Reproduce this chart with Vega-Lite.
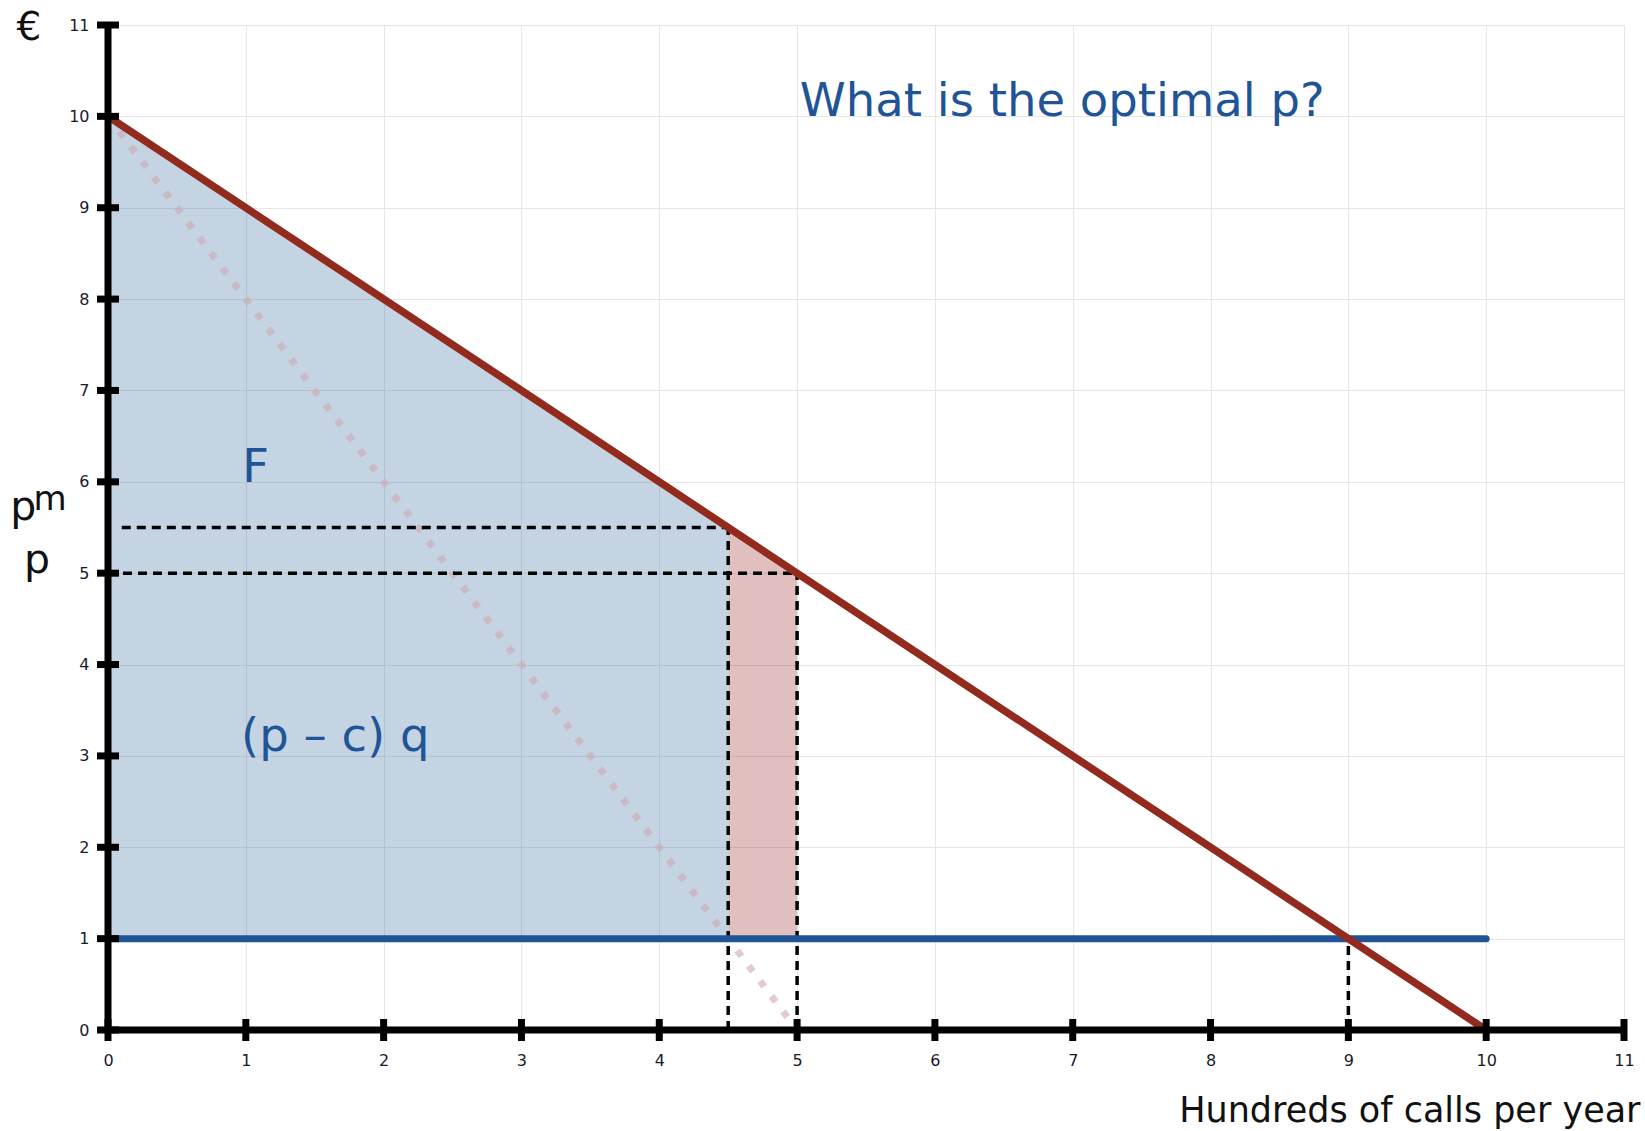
{
  "$schema": "https://vega.github.io/schema/vega-lite/v6.json",
  "width": 1516,
  "height": 1005,
  "autosize": {"type": "none"},
  "padding": {"left": 108, "top": 25, "right": 21, "bottom": 101},
  "config": {
    "view": {"stroke": null},
    "font": "DejaVu Sans",
    "axis": {
      "grid": true,
      "gridColor": "#e6e6e6",
      "gridWidth": 1,
      "ticks": false,
      "domain": false,
      "labelFont": "DejaVu Sans",
      "labelFontSize": 16,
      "labelColor": "#1a1a2a",
      "titleFont": "DejaVu Sans",
      "titleFontWeight": "normal",
      "titleColor": "#111111"
    }
  },
  "datasets": {
    "blueArea": [{"x": 0, "y": 10}, {"x": 4.5, "y": 5.5}],
    "redArea": [{"x": 4.5, "y": 5.5}, {"x": 5, "y": 5}],
    "mr": [{"x": 0, "y": 10}, {"x": 5, "y": 0}],
    "dashed": [
      {"x": 0.1, "y": 5.5, "x2": 4.5, "y2": 5.5},
      {"x": 0, "y": 5, "x2": 5, "y2": 5},
      {"x": 4.5, "y": 0, "x2": 4.5, "y2": 5.5},
      {"x": 5, "y": 0, "x2": 5, "y2": 5},
      {"x": 9, "y": 0, "x2": 9, "y2": 1}
    ],
    "cost": [{"x": 0, "y": 1, "x2": 10, "y2": 1}],
    "demand": [{"x": 0, "y": 10, "x2": 10, "y2": 0}],
    "axes": [
      {"x": 0, "y": 0, "x2": 11, "y2": 0},
      {"x": 0, "y": 0, "x2": 0, "y2": 11}
    ],
    "xticks": [
      {"x": 0, "y": 0}, {"x": 1, "y": 0}, {"x": 2, "y": 0}, {"x": 3, "y": 0},
      {"x": 4, "y": 0}, {"x": 5, "y": 0}, {"x": 6, "y": 0}, {"x": 7, "y": 0},
      {"x": 8, "y": 0}, {"x": 9, "y": 0}, {"x": 10, "y": 0}, {"x": 11, "y": 0}
    ],
    "yticks": [
      {"x": 0, "y": 0}, {"x": 0, "y": 1}, {"x": 0, "y": 2}, {"x": 0, "y": 3},
      {"x": 0, "y": 4}, {"x": 0, "y": 5}, {"x": 0, "y": 6}, {"x": 0, "y": 7},
      {"x": 0, "y": 8}, {"x": 0, "y": 9}, {"x": 0, "y": 10}, {"x": 0, "y": 11}
    ],
    "blueText": [
      {"x": 5.02, "y": 10.0, "label": "What is the optimal p?"},
      {"x": 0.975, "y": 6.0, "label": "F"},
      {"x": 0.965, "y": 3.05, "label": "(p – c) q"}
    ],
    "bigP": [
      {"x": -0.71, "y": 5.58, "label": "p"},
      {"x": -0.61, "y": 5.0, "label": "p"}
    ],
    "supM": [{"x": -0.54, "y": 5.69, "label": "m"}]
  },
  "encoding": {
    "x": {
      "field": "x",
      "type": "quantitative",
      "scale": {"domain": [0, 11], "nice": false, "zero": false},
      "axis": {
        "values": [0, 1, 2, 3, 4, 5, 6, 7, 8, 9, 10, 11],
        "labelPadding": 22,
        "labelFlush": false,
        "title": "Hundreds of calls per year",
        "titleFontSize": 35,
        "titleAnchor": "end",
        "titleAlign": "right",
        "titleBaseline": "alphabetic",
        "titleX": 1532,
        "titleY": 91
      }
    },
    "y": {
      "field": "y",
      "type": "quantitative",
      "scale": {"domain": [0, 11], "nice": false, "zero": false},
      "axis": {
        "values": [0, 1, 2, 3, 4, 5, 6, 7, 8, 9, 10, 11],
        "labelPadding": 19,
        "labelFlush": false,
        "title": "€",
        "titleFontSize": 39,
        "titleAngle": 0,
        "titleAlign": "left",
        "titleBaseline": "alphabetic",
        "titleX": -92,
        "titleY": 14
      }
    }
  },
  "layer": [
    {
      "data": {"name": "blueArea"},
      "mark": {"type": "area", "color": "#2a639a", "opacity": 0.28},
      "encoding": {"y2": {"datum": 1}}
    },
    {
      "data": {"name": "redArea"},
      "mark": {"type": "area", "color": "#9b2a2a", "opacity": 0.3},
      "encoding": {"y2": {"datum": 1}}
    },
    {
      "data": {"name": "mr"},
      "mark": {"type": "line", "color": "#cfa9b2", "opacity": 0.6, "strokeWidth": 7, "strokeDash": [7, 12], "strokeCap": "butt"},
      "encoding": {}
    },
    {
      "data": {"name": "dashed"},
      "mark": {"type": "rule", "color": "#000000", "strokeWidth": 3.5, "strokeDash": [9, 6]},
      "encoding": {"x2": {"field": "x2"}, "y2": {"field": "y2"}}
    },
    {
      "data": {"name": "cost"},
      "mark": {"type": "rule", "color": "#1f5597", "strokeWidth": 7, "strokeCap": "round"},
      "encoding": {"x2": {"field": "x2"}, "y2": {"field": "y2"}}
    },
    {
      "data": {"name": "demand"},
      "mark": {"type": "rule", "color": "#922a1e", "strokeWidth": 7.5, "strokeCap": "round"},
      "encoding": {"x2": {"field": "x2"}, "y2": {"field": "y2"}}
    },
    {
      "data": {"name": "axes"},
      "mark": {"type": "rule", "color": "#000000", "strokeWidth": 7},
      "encoding": {"x2": {"field": "x2"}, "y2": {"field": "y2"}}
    },
    {
      "data": {"name": "xticks"},
      "mark": {"type": "tick", "orient": "vertical", "color": "#000000", "size": 22, "thickness": 7, "opacity": 1}
    },
    {
      "data": {"name": "yticks"},
      "mark": {"type": "tick", "orient": "horizontal", "color": "#000000", "size": 22, "thickness": 7, "opacity": 1}
    },
    {
      "data": {"name": "blueText"},
      "mark": {"type": "text", "color": "#1f5597", "fontSize": 46.5, "align": "left", "baseline": "alphabetic", "font": "DejaVu Sans"},
      "encoding": {"text": {"field": "label"}}
    },
    {
      "data": {"name": "bigP"},
      "mark": {"type": "text", "color": "#111111", "fontSize": 41, "align": "left", "baseline": "alphabetic", "font": "DejaVu Sans"},
      "encoding": {"text": {"field": "label"}}
    },
    {
      "data": {"name": "supM"},
      "mark": {"type": "text", "color": "#111111", "fontSize": 34, "align": "left", "baseline": "alphabetic", "font": "DejaVu Sans"},
      "encoding": {"text": {"field": "label"}}
    }
  ]
}
